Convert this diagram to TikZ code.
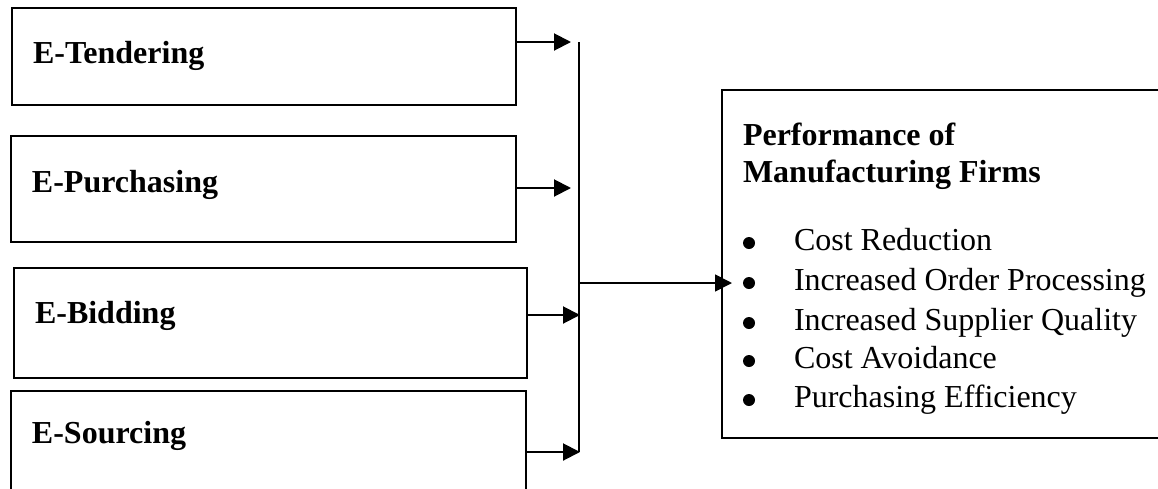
\documentclass[tikz,border=0pt]{standalone}
\usepackage{fontspec}
\setmainfont{Liberation Serif}
\usetikzlibrary{arrows.meta}
\begin{document}
\begin{tikzpicture}[x=0.5pt,y=-0.5pt,line join=miter,>={Triangle[length=8.5pt,width=8.5pt]},line width=1pt]
	\tikzset{every node/.style={inner sep=0pt,font=\fontsize{16}{19}\selectfont},
		box/.style={draw,anchor=north west},
		dot/.style={circle,fill,minimum size=6pt},
		lbl/.style={anchor=base west,font=\fontsize{16}{19}\selectfont\bfseries}}
	\useasboundingbox (0,0) rectangle (1158,488);
	% input boxes
	\foreach \n/\xa/\ya/\w/\h in {1/11/7/504/97,2/10/135/505/106,3/13/267/513/110,4/10/390/515/120}
	\node[box,minimum width={\w*0.5pt},minimum height={\h*0.5pt}] (b\n) at (\xa,\ya) {};
	\foreach \n/\xt/\yt/\txt in {1/32/63/E-Tendering,2/31/192/E-Purchasing,3/34/323/E-Bidding,4/31/443/E-Sourcing}
	\node[lbl] (l\n) at (\xt,\yt) {\txt};
	% collecting bar
	\coordinate (bt) at (579,42);
	\coordinate (bb) at (579,452);
	\coordinate (bm) at (579,283);
	\draw (bt) -- (bb);
	\foreach \n/\y/\xe in {1/42/571,2/188/571,3/315/580,4/452/580}
	\draw[->] (b\n.east |- 0,\y) -- (\xe,\y);
	% outcome box
	\node[box,minimum width=222pt,minimum height=174pt] (perf) at (721,89) {};
	\node[lbl] (ttl1) at (742,145) {Performance of};
	\node[lbl] (ttl2) at (742,182) {Manufacturing Firms};
	\foreach \n/\y/\txt in {1/250/Cost Reduction,2/290/Increased Order Processing,3/330/Increased Supplier Quality,4/368/Cost Avoidance,5/407/Purchasing Efficiency}
	{\node[dot] (dot\n) at (749,\y-7) {};
		\node[anchor=base west] (it\n) at (793,\y) {\txt};}
	\draw[->,line width=0.8pt,shorten >=-5.5pt] (bm) -- (bm -| perf.west);
\end{tikzpicture}
\end{document}
